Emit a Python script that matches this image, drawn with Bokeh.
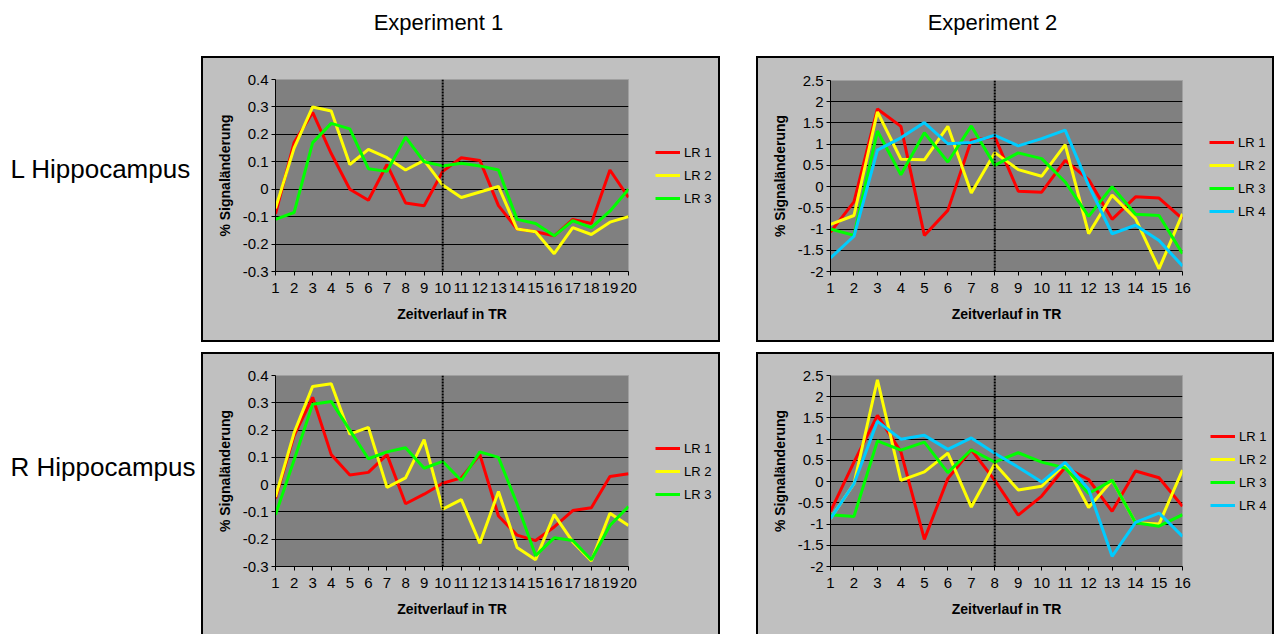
from bokeh.plotting import figure
from bokeh.models import (Legend, LegendItem, Span, Label, FixedTicker,
                          NumeralTickFormatter, Spacer, Range1d)
from bokeh.layouts import row, column
from bokeh.embed import file_html
from bokeh.resources import INLINE

# ---------------- data ----------------
tr_exp1 = [1, 2, 3, 4, 5, 6, 7, 8, 9, 10, 11, 12, 13, 14, 15, 16, 17, 18, 19, 20]
tr_exp2 = [1, 2, 3, 4, 5, 6, 7, 8, 9, 10, 11, 12, 13, 14, 15, 16]
series_names_exp1 = ["LR 1", "LR 2", "LR 3"]
series_names_exp2 = ["LR 1", "LR 2", "LR 3", "LR 4"]
yticks_exp1 = [-0.3, -0.2, -0.1, 0, 0.1, 0.2, 0.3, 0.4]
yticks_exp2 = [-2, -1.5, -1, -0.5, 0, 0.5, 1, 1.5, 2, 2.5]
marker_exp1 = 10
marker_exp2 = 8

# Experiment 1, L Hippocampus
L1_LR1 = [-0.09, 0.17, 0.28, 0.13, 0.0, -0.04, 0.09, -0.05, -0.06, 0.065,
          0.115, 0.105, -0.06, -0.145, -0.155, -0.17, -0.11, -0.125, 0.07, -0.03]
L1_LR2 = [-0.07, 0.15, 0.30, 0.285, 0.09, 0.145, 0.115, 0.07, 0.105, 0.015,
          -0.03, -0.01, 0.01, -0.145, -0.155, -0.235, -0.14, -0.165, -0.12, -0.10]
L1_LR3 = [-0.11, -0.085, 0.17, 0.24, 0.22, 0.075, 0.065, 0.19, 0.10, 0.085,
          0.095, 0.085, 0.07, -0.11, -0.125, -0.17, -0.115, -0.14, -0.08, 0.0]

# Experiment 1, R Hippocampus
R1_LR1 = [-0.05, 0.18, 0.32, 0.11, 0.035, 0.045, 0.11, -0.07, -0.035, 0.005,
          0.025, 0.11, -0.115, -0.185, -0.205, -0.155, -0.095, -0.085, 0.03, 0.04]
R1_LR2 = [-0.045, 0.19, 0.36, 0.37, 0.185, 0.21, -0.01, 0.025, 0.165, -0.09,
          -0.055, -0.215, -0.025, -0.23, -0.275, -0.11, -0.21, -0.28, -0.105, -0.15]
R1_LR3 = [-0.11, 0.09, 0.295, 0.305, 0.2, 0.095, 0.12, 0.135, 0.06, 0.085,
          0.015, 0.12, 0.1, -0.07, -0.26, -0.195, -0.205, -0.275, -0.15, -0.08]

# Experiment 2, L Hippocampus
L2_LR1 = [-1.07, -0.36, 1.83, 1.42, -1.15, -0.56, 1.09, 1.17, -0.11, -0.13,
          0.62, 0.165, -0.77, -0.24, -0.27, -0.76]
L2_LR2 = [-0.89, -0.68, 1.76, 0.645, 0.63, 1.42, -0.15, 0.80, 0.40, 0.245,
          0.99, -1.11, -0.20, -0.755, -1.94, -0.64]
L2_LR3 = [-1.0, -1.15, 1.31, 0.28, 1.27, 0.58, 1.43, 0.50, 0.795, 0.66,
          0.11, -0.70, 0.0, -0.65, -0.68, -1.58]
L2_LR4 = [-1.68, -1.17, 0.86, 1.15, 1.51, 1.01, 1.04, 1.21, 0.96, 1.13,
          1.33, 0.03, -1.11, -0.91, -1.27, -1.87]

# Experiment 2, R Hippocampus
R2_LR1 = [-0.70, 0.46, 1.56, 0.70, -1.36, 0.07, 0.75, 0.03, -0.79, -0.34,
          0.34, 0.05, -0.70, 0.25, 0.09, -0.58]
R2_LR2 = [-0.87, -0.05, 2.40, 0.03, 0.23, 0.67, -0.60, 0.42, -0.20, -0.11,
          0.42, -0.61, 0.03, -0.97, -1.0, 0.27]
R2_LR3 = [-0.78, -0.82, 0.96, 0.74, 0.93, 0.21, 0.75, 0.46, 0.68, 0.46,
          0.32, -0.28, 0.03, -0.97, -1.05, -0.78]
R2_LR4 = [-0.87, -0.05, 1.42, 1.0, 1.09, 0.76, 1.03, 0.67, 0.34, -0.01,
          0.45, -0.18, -1.76, -0.96, -0.74, -1.29]

# ---------------- styling ----------------
FONT = "Liberation Sans"
COLORS = ["#FF0000", "#FFFF00", "#00FF00", "#00CCFF"]
BOX_GRAY = "#C0C0C0"
PLOT_GRAY = "#808080"
BORDER = 2


def bar(w, h):
    return Spacer(width=w, height=h, styles={"background-color": "black"})


def chart(x, series, yticks, marker, w, h, mb):
    mbl, mbr, mbt, mbb = mb
    p = figure(width=w, height=h, x_range=Range1d(x[0], x[-1]),
               y_range=Range1d(yticks[0], yticks[-1]),
               output_backend="svg", toolbar_location=None, frame_align=False,
               min_border_left=mbl, min_border_right=mbr,
               min_border_top=mbt, min_border_bottom=mbb)
    p.background_fill_color = PLOT_GRAY
    p.border_fill_color = BOX_GRAY
    p.outline_line_color = "#A0A0A0"
    p.outline_line_width = 1

    p.xgrid.visible = False
    p.ygrid.ticker = FixedTicker(ticks=yticks[:-1])
    p.ygrid.grid_line_color = "black"
    p.ygrid.grid_line_width = 1

    for ax in (p.xaxis[0], p.yaxis[0]):
        ax.axis_line_color = "black"
        ax.axis_line_width = 1
        ax.major_tick_line_color = "black"
        ax.major_tick_in = 0
        ax.major_tick_out = 4
        ax.minor_tick_line_color = None
        ax.major_label_text_font = FONT
        ax.major_label_text_font_size = "15px"
        ax.major_label_text_color = "black"
        ax.axis_label_text_font = FONT
        ax.axis_label_text_font_size = "14px"
        ax.axis_label_text_font_style = "bold"
        ax.axis_label_text_color = "black"

    p.xaxis.ticker = FixedTicker(ticks=x)
    p.xaxis.major_label_standoff = 7
    p.xaxis.axis_label = "Zeitverlauf in TR"
    p.xaxis.axis_label_standoff = 10

    p.yaxis.ticker = FixedTicker(ticks=yticks)
    p.yaxis.formatter = NumeralTickFormatter(format="0.[0]")
    p.yaxis.major_label_standoff = 3
    p.yaxis.axis_label = "% Signaländerung"
    p.yaxis.axis_label_standoff = 7

    p.add_layout(Span(location=marker, dimension="height", line_color="black",
                      line_width=2, line_dash="2 1"))

    for vals, col in zip(series, COLORS):
        p.line(x, vals, line_color=col, line_width=3)
    return p


def legend_fig(x, series, names, w, h, glyph_x, top):
    # the frame starts where the legend's first item starts
    p = figure(width=w, height=h, x_range=Range1d(0, 1), y_range=Range1d(0, 1),
               output_backend="svg", toolbar_location=None, frame_align=False,
               min_border_left=glyph_x, min_border_top=top,
               min_border_right=0, min_border_bottom=0,
               x_axis_location=None, y_axis_location=None)
    p.outline_line_color = None
    p.background_fill_color = BOX_GRAY
    p.border_fill_color = BOX_GRAY
    p.xgrid.visible = False
    p.ygrid.visible = False
    items = []
    for vals, name, col in zip(series, names, COLORS):
        r = p.line(x, vals, line_color=col, line_width=3, visible=False)
        items.append(LegendItem(label=name, renderers=[r]))
    legend = Legend(items=items, location="top_left",
                    orientation="vertical", padding=0, margin=0, spacing=3,
                    label_height=20, glyph_height=20, glyph_width=25, label_standoff=4,
                    border_line_color=None, background_fill_alpha=0,
                    label_text_font=FONT, label_text_font_size="13px",
                    label_text_color="black")
    p.add_layout(legend)
    return p


def panel(x, series, names, yticks, marker, w_chart, w_leg, h_inner, mb, leg_x, leg_top,
          bottom_border=True):
    c = chart(x, series, yticks, marker, w_chart, h_inner, mb)
    lf = legend_fig(x, series, names, w_leg, h_inner, leg_x, leg_top)
    w_total = w_chart + w_leg + 2 * BORDER
    inner = row(bar(BORDER, h_inner), c, lf, bar(BORDER, h_inner),
                styles={"background-color": BOX_GRAY})
    parts = [bar(w_total, BORDER), inner]
    if bottom_border:
        parts.append(bar(w_total, BORDER))
    return column(*parts)


def text_fig(w, h, texts, size):
    p = figure(width=w, height=h, x_range=Range1d(0, w), y_range=Range1d(0, h),
               output_backend="svg", toolbar_location=None, min_border=0,
               frame_align=False, x_axis_location=None, y_axis_location=None)
    p.outline_line_color = None
    p.background_fill_color = "white"
    p.border_fill_color = "white"
    p.xgrid.visible = False
    p.ygrid.visible = False
    for (tx, ty, txt, align) in texts:
        p.add_layout(Label(x=tx, y=ty, text=txt, text_align=align,
                           text_baseline="alphabetic", text_font=FONT,
                           text_font_size=size, text_color="black"))
    return p


W_LAB, W_GAP = 201, 36
H_HEAD, H_TOP_IN, H_VGAP, H_BOT_IN = 56, 282, 10, 280
H_TOP = H_TOP_IN + 2 * BORDER
H_BOT = H_BOT_IN + BORDER
W_TOTAL = 1274

# text anchor positions, measured from the top of the picture
header = text_fig(W_TOTAL, H_HEAD,
                  [(438, H_HEAD - 22, "Experiment 1", "center"),
                   (992, H_HEAD - 22, "Experiment 2", "center")], "22px")
lab_top = text_fig(W_LAB, H_TOP, [(10, H_TOP - (168 - 56), "L Hippocampus", "left")], "26px")
lab_bot = text_fig(W_LAB, H_BOT, [(10, H_BOT - (466 - 352), "R Hippocampus", "left")], "26px")

p_tl = panel(tr_exp1, [L1_LR1, L1_LR2, L1_LR3], series_names_exp1, yticks_exp1, marker_exp1,
             437, 78, H_TOP_IN, (72, 12, 21, 69), 15, 84)
p_tr = panel(tr_exp2, [L2_LR1, L2_LR2, L2_LR3, L2_LR4], series_names_exp2, yticks_exp2, marker_exp2,
             437, 77, H_TOP_IN, (72, 13, 22, 69), 14, 74)
p_bl = panel(tr_exp1, [R1_LR1, R1_LR2, R1_LR3], series_names_exp1, yticks_exp1, marker_exp1,
             437, 78, H_BOT_IN, (72, 12, 21, 68), 15, 84, bottom_border=False)
p_br = panel(tr_exp2, [R2_LR1, R2_LR2, R2_LR3, R2_LR4], series_names_exp2, yticks_exp2, marker_exp2,
             437, 77, H_BOT_IN, (72, 13, 21, 68), 15, 72, bottom_border=False)

layout = column(
    header,
    row(lab_top, p_tl, Spacer(width=W_GAP, height=H_TOP), p_tr),
    Spacer(width=10, height=H_VGAP),
    row(lab_bot, p_bl, Spacer(width=W_GAP, height=H_BOT), p_br),
)

open("out.html", "w").write(file_html(layout, INLINE))
